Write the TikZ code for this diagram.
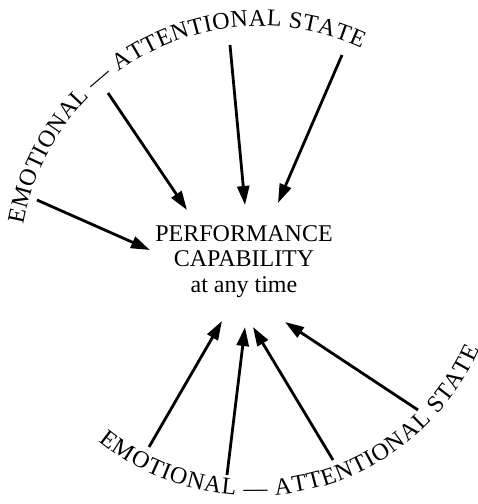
\documentclass[tikz,border=0pt]{standalone}
\usepackage{fontspec}
\setmainfont{Liberation Serif}
\usetikzlibrary{arrows.meta, decorations.text}

\begin{document}
\begin{tikzpicture}[
  x=1pt, y=1pt,
  every node/.style={font=\fontsize{24}{25.5}\selectfont},
  statearc/.style={decorate, decoration={text along path,
    text={|\fontsize{24}{26}\selectfont|EMOTIONAL — ATTENTIONAL STATE},
    text align={fit to path}}},
  arr/.style={-{Triangle[length=19pt,width=12pt]}, line width=2.8pt}
]
\useasboundingbox (0,0) rectangle (478,504);

% the two labelled arcs
\path[statearc] (260,238) ++(170:240)
  arc[start angle=170, end angle=65, radius=240];
\path[statearc] (254,255) ++(231:247)
  arc[start angle=231, end angle=336, radius=247];

\node[align=center] (perf) at (244,242.5)
  {PERFORMANCE\\CAPABILITY\\at any time};

% arrow ends
\coordinate (src1) at (37,304);  \coordinate (tip1) at (150,254);
\coordinate (src2) at (108,411); \coordinate (tip2) at (187,294);
\coordinate (src3) at (230,459); \coordinate (tip3) at (245,299);
\coordinate (src4) at (342,449); \coordinate (tip4) at (278,301);
\coordinate (src5) at (149,57);  \coordinate (tip5) at (222,183);
\coordinate (src6) at (227,29);  \coordinate (tip6) at (245,177);
\coordinate (src7) at (333,44);  \coordinate (tip7) at (253,177);
\coordinate (src8) at (418,94);  \coordinate (tip8) at (285,182);

\draw[arr] (src1) -- (tip1);
\draw[arr] (src2) -- (tip2);
\draw[arr] (src3) -- (tip3);
\draw[arr] (src4) -- (tip4);
\draw[arr] (src5) -- (tip5);
\draw[arr] (src6) -- (tip6);
\draw[arr] (src7) -- (tip7);
\draw[arr] (src8) -- (tip8);

\end{tikzpicture}
\end{document}
